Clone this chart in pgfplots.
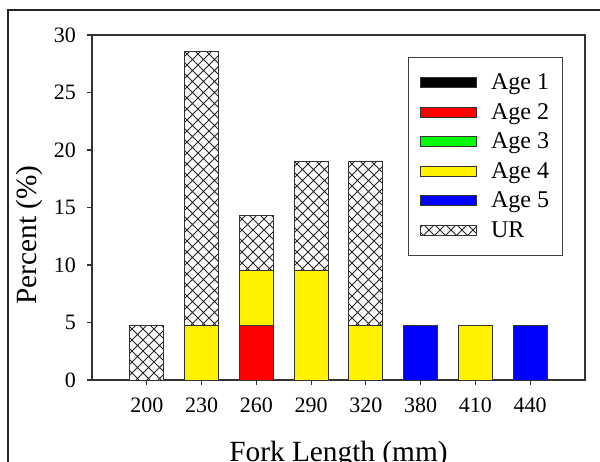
\documentclass[border=0pt]{standalone}
\usepackage{fontspec}
\setmainfont{Liberation Serif}
\usepackage{pgfplots}
\pgfplotsset{compat=1.18}
\usetikzlibrary{patterns}

% diagonal cross hatch for the UR bars
\pgfdeclarepatternformonly{xhatch}{\pgfqpoint{-0.5pt}{-0.5pt}}{\pgfqpoint{8.75pt}{8.75pt}}{\pgfqpoint{8.25pt}{8.25pt}}{
  \pgfsetlinewidth{0.7pt}
  \pgfpathmoveto{\pgfqpoint{0pt}{0pt}}\pgfpathlineto{\pgfqpoint{8.25pt}{8.25pt}}
  \pgfpathmoveto{\pgfqpoint{0pt}{8.25pt}}\pgfpathlineto{\pgfqpoint{8.25pt}{0pt}}
  \pgfusepath{stroke}}

\pgfplotsset{
  agebar/.style={draw=black!80, line width=0.6pt,
    legend image code/.code={\draw[##1] (0pt,-3.75pt) rectangle (42pt,3.75pt);
      % widen the cell without drawing anything
      \pgfpathmoveto{\pgfqpoint{-1pt}{0pt}}\pgfpathlineto{\pgfqpoint{51pt}{0pt}}\pgfusepath{}}},
}

\begin{document}
\begin{tikzpicture}
\useasboundingbox (-69pt,-60.75pt) rectangle (381pt,285pt);
\draw[black!85, line width=0.8pt] (-63pt,-70pt) -- (-63pt,277.5pt) -- (390pt,277.5pt);
\begin{axis}[
  at={(0pt,0pt)}, anchor=south west,
  scale only axis,
  width=369.75pt, height=258.75pt,
  ybar stacked,
  bar width=25.5pt,
  xmin=-1, xmax=8,
  ymin=0, ymax=30,
  xtick=data,
  xticklabels={200,230,260,290,320,380,410,440},
  ytick={0,5,...,30},
  xtick pos=bottom, ytick pos=left,
  tick align=outside,
  major tick length=3.5pt,
  axis line style={black!80, line width=0.8pt},
  tick style={black!80, line width=0.8pt},
  /pgf/number format/assume math mode=true,
  tick label style={font=\fontsize{16.5}{18}\selectfont},
  xticklabel style={yshift=-6pt},
  yticklabel style={xshift=-5pt},
  xlabel={Fork Length (mm)},
  ylabel={Percent (\%)},
  label style={font=\fontsize{22}{24}\selectfont},
  ylabel style={at={(axis description cs:-0.126,0.42)}, anchor=center},
  xlabel style={at={(axis description cs:0.5,-0.165)}, anchor=north},
  legend cell align=left,
  legend style={at={(axis description cs:0.955,0.936)}, anchor=north east,
    draw=black!75, line width=0.7pt,
    font=\fontsize{18}{20}\selectfont,
    row sep=4.8pt, inner xsep=8pt, inner ysep=10pt},
  legend entries={Age 1,Age 2,Age 3,Age 4,Age 5,UR},
]
\addlegendimage{agebar, fill=black}
\addplot+[agebar, fill=red] coordinates
  {(0,0) (1,0) (2,4.76) (3,0) (4,0) (5,0) (6,0) (7,0)};
\addlegendimage{agebar, fill=green}
\addplot+[agebar, fill=yellow] coordinates
  {(0,0) (1,4.76) (2,4.76) (3,9.52) (4,4.76) (5,0) (6,4.76) (7,0)};
\addplot+[agebar, fill=blue] coordinates
  {(0,0) (1,0) (2,0) (3,0) (4,0) (5,4.76) (6,0) (7,4.76)};
\addplot+[agebar, fill=white, postaction={pattern=xhatch, pattern color=black!85}] coordinates
  {(0,4.76) (1,23.81) (2,4.76) (3,9.52) (4,14.29) (5,0) (6,0) (7,0)};
\end{axis}
\end{tikzpicture}
\end{document}
